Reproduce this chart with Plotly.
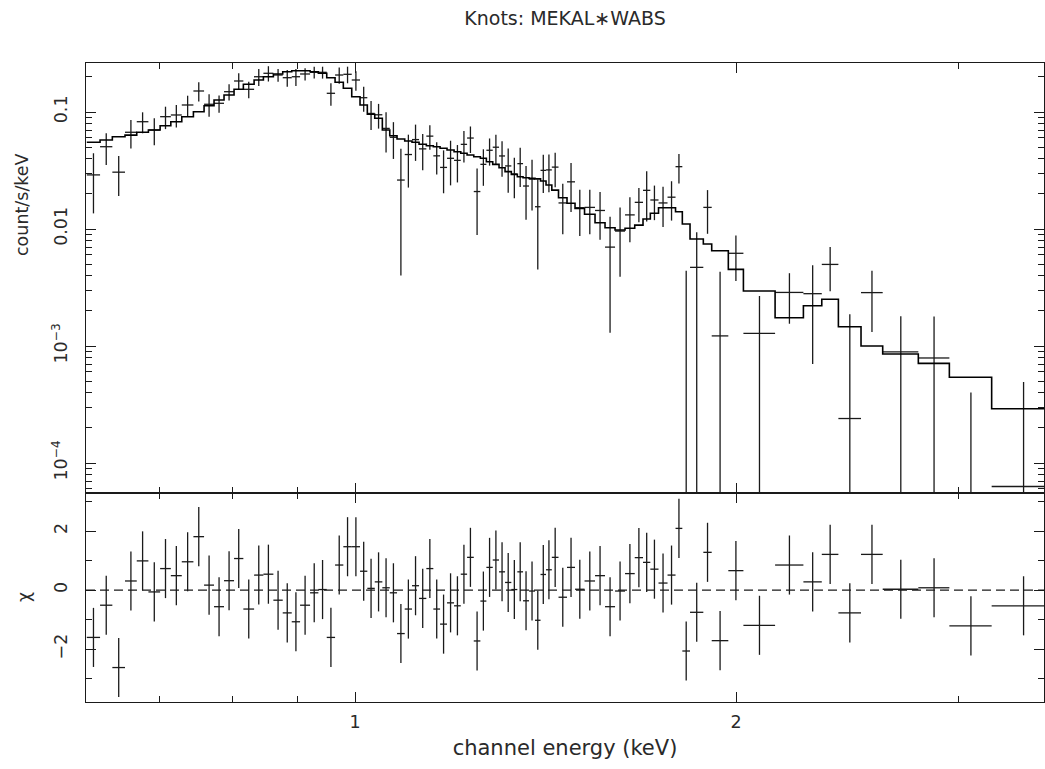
import plotly.graph_objects as go

# Channel bin edges (keV)
bin_edges = [
    0.6138, 0.6288, 0.6430, 0.6580, 0.6722, 0.6866, 0.7014, 0.7152, 0.7296, 0.7452,
    0.7598, 0.7737, 0.7879, 0.8024, 0.8161, 0.8322, 0.8464, 0.8619, 0.8767, 0.8912,
    0.9048, 0.9214, 0.9354, 0.9498, 0.9643, 0.9789, 0.9940, 1.0091, 1.0226, 1.0365,
    1.0509, 1.0652, 1.0794, 1.0946, 1.1092, 1.1235, 1.1385, 1.1531, 1.1673, 1.1822,
    1.1974, 1.2121, 1.2261, 1.2411, 1.2561, 1.2699, 1.2847, 1.2995, 1.3138, 1.3289,
    1.3435, 1.3575, 1.3724, 1.3874, 1.4014, 1.4155, 1.4305, 1.4480, 1.4706, 1.4922,
    1.5182, 1.5475, 1.5759, 1.6049, 1.6343, 1.6634, 1.6887, 1.7113, 1.7370, 1.7657,
    1.7916, 1.8139, 1.8395, 1.8845, 1.9135, 1.9722, 2.0271, 2.1474, 2.2609, 2.3378,
    2.4095, 2.5108, 2.6118, 2.7867, 2.9486, 3.1845, 3.5652,
]

# Observed rate per channel (count/s/keV) and 1-sigma errors
counts = [
    0.0290, 0.0505, 0.0306, 0.0671, 0.0826, 0.0701, 0.0912, 0.0943, 0.1148, 0.1512,
    0.1164, 0.1187, 0.1491, 0.1841, 0.1563, 0.2002, 0.2142, 0.2071, 0.1964, 0.2002,
    0.2113, 0.2184, 0.2184, 0.1445, 0.2071, 0.2100, 0.1877, 0.1325, 0.0972, 0.0947,
    0.0724, 0.0608, 0.0262, 0.0433, 0.0581, 0.0484, 0.0622, 0.0422, 0.0336, 0.0402,
    0.0386, 0.0529, 0.0599, 0.0209, 0.0357, 0.0471, 0.0500, 0.0421, 0.0346, 0.0295,
    0.0362, 0.0233, 0.0267, 0.0155, 0.0317, 0.0320, 0.0338, 0.0167, 0.0253, 0.0152,
    0.0153, 0.0144, 0.0070, 0.0096, 0.0132, 0.0169, 0.0214, 0.0177, 0.0167, 0.0187,
    0.0341, -0.0018, 0.0047, 0.0153, 0.00122, 0.0062, 0.00128, 0.00287, 0.0028, 0.00498,
    0.00024, 0.00286, 0.00089, 0.00079, -0.00023, 0.000063,
]
count_err = [
    0.0154, 0.0153, 0.0115, 0.0184, 0.0168, 0.0182, 0.0198, 0.0205, 0.0230, 0.0280,
    0.0252, 0.0200, 0.0234, 0.0300, 0.0253, 0.0330, 0.0320, 0.0260, 0.0320, 0.0330,
    0.0250, 0.0255, 0.0255, 0.0315, 0.0330, 0.0340, 0.0357, 0.0320, 0.0270, 0.0226,
    0.0273, 0.0211, 0.0222, 0.0207, 0.0199, 0.0166, 0.0147, 0.0130, 0.0134, 0.0166,
    0.0136, 0.0158, 0.0153, 0.0120, 0.0123, 0.0123, 0.0140, 0.0141, 0.0142, 0.0112,
    0.0133, 0.0113, 0.0123, 0.0110, 0.0114, 0.0114, 0.0111, 0.0077, 0.0113, 0.0065,
    0.0063, 0.0063, 0.0057, 0.0057, 0.0055, 0.0055, 0.0098, 0.0058, 0.0063, 0.0069,
    0.0096, 0.0062, 0.0047, 0.0062, 0.0031, 0.0026, 0.0014, 0.00132, 0.0021, 0.00204,
    0.00163, 0.00154, 0.00091, 0.0010, 0.00063, 0.00043,
]

# Folded MEKAL*WABS model per channel (count/s/keV)
model = [
    0.0551, 0.0577, 0.0615, 0.0635, 0.0671, 0.0701, 0.0764, 0.0826, 0.0912, 0.1006,
    0.1132, 0.1267, 0.1397, 0.1563, 0.1725, 0.1877, 0.2002, 0.2113, 0.2210, 0.2254,
    0.2254, 0.2210, 0.2142, 0.1964, 0.1794, 0.1594, 0.1352, 0.1148, 0.0956, 0.0884,
    0.0702, 0.0627, 0.0588, 0.0565, 0.0551, 0.0530, 0.0515, 0.0505, 0.0490, 0.0473,
    0.0458, 0.0444, 0.0429, 0.0415, 0.0402, 0.0376, 0.0357, 0.0334, 0.0309, 0.0293,
    0.0280, 0.0274, 0.0271, 0.0268, 0.0257, 0.0238, 0.0215, 0.0185, 0.0166, 0.0150,
    0.01335, 0.01132, 0.01026, 0.0098, 0.01014, 0.0108, 0.01218, 0.01362, 0.0152, 0.0152,
    0.01406, 0.01104, 0.00821, 0.00745, 0.00652, 0.00452, 0.00295, 0.001746, 0.00221, 0.00251,
    0.00146, 0.0010, 0.000854, 0.000711, 0.00054, 0.000291,
]

# Residuals in units of sigma
chi = [
    -1.60, -0.51, -2.62, 0.31, 0.99, -0.06, 0.73, 0.49, 0.96, 1.81,
    0.17, -0.56, 0.32, 1.07, -0.64, 0.51, 0.54, -0.34, -0.77, -1.07,
    -0.51, -0.09, 0.02, -1.60, 0.85, 1.47, 1.47, 0.64, 0.06, 0.28,
    0.08, -0.09, -1.47, -0.64, 0.15, -0.28, 0.73, -0.64, -1.15, -0.43,
    -0.53, 0.54, 1.11, -1.72, -0.37, 0.77, 1.02, 0.62, 0.26, 0.02,
    0.62, -0.36, -0.03, -1.02, 0.53, 0.69, 1.11, -0.24, 0.77, 0.03,
    0.31, 0.49, -0.56, -0.03, 0.56, 1.10, 0.94, 0.71, 0.24, 0.51,
    2.09, -2.06, -0.75, 1.28, -1.71, 0.66, -1.19, 0.85, 0.28, 1.21,
    -0.77, 1.21, 0.03, 0.08, -1.21, -0.53,
]

assert len(bin_edges) == len(counts) + 1 == len(count_err) + 1 == len(model) + 1 == len(chi) + 1

INK = "#1a1a1a"
TEXT = "#2a2a2a"
FONT = dict(family="DejaVu Sans", size=17.5, color=TEXT)

W, H = 1045, 769
M_L, M_R, M_T, M_B = 86, 1, 63, 67
PLOT_W, PLOT_H = W - M_L - M_R, H - M_T - M_B


def paper_x(px):
    return (px - M_L) / PLOT_W


def paper_y(py):
    return (H - M_B - py) / PLOT_H


lo_edges = bin_edges[:-1]
hi_edges = bin_edges[1:]
centres = [0.5 * (a + b) for a, b in zip(lo_edges, hi_edges)]

# Data crosses for the spectrum; bars reaching below zero run off the log axis
floor_val = 1e-7
sx, sy = [], []
for lo, hi, xc, d, s in zip(lo_edges, hi_edges, centres, counts, count_err):
    sx += [xc, xc, None]
    sy += [max(d - s, floor_val), d + s, None]
    if d > 0:
        sx += [lo, hi, None]
        sy += [d, d, None]

# Residual crosses (chi +/- 1)
rx, ry = [], []
for lo, hi, xc, c in zip(lo_edges, hi_edges, centres, chi):
    rx += [xc, xc, None, lo, hi, None]
    ry += [c - 1.0, c + 1.0, None, c, c, None]

fig = go.Figure()

fig.add_trace(go.Scatter(
    x=sx, y=sy, mode="lines", line=dict(color=INK, width=1.3),
    xaxis="x", yaxis="y", hoverinfo="skip", showlegend=False,
))
fig.add_trace(go.Scatter(
    x=list(bin_edges), y=list(model) + [model[-1]], mode="lines",
    line=dict(color="black", width=1.6, shape="hv"),
    xaxis="x", yaxis="y", showlegend=False,
))
fig.add_trace(go.Scatter(
    x=rx, y=ry, mode="lines", line=dict(color=INK, width=1.3),
    xaxis="x2", yaxis="y2", hoverinfo="skip", showlegend=False,
))

x_range = [-0.2126, 0.5444]
x_minor = [0.7, 0.8, 0.9, 3.0]
y_major = [1e-4, 1e-3, 1e-2, 1e-1]
y_labels = ["10<sup>\u22124</sup>", "10<sup>\u22123</sup>", "0.01", "0.1"]
y_minor = [m * 10.0 ** e for e in range(-5, 0) for m in range(2, 10)]

axis_common = dict(
    showline=True, linecolor=INK, linewidth=1.2, mirror="allticks",
    ticks="inside", tickcolor=INK, ticklen=10, tickwidth=1.2,
    showgrid=False, zeroline=False,
)
minor_style = dict(ticks="inside", ticklen=6, tickcolor=INK, tickwidth=1.2)

lower_top = paper_y(493)

fig.update_layout(
    width=W, height=H,
    margin=dict(l=M_L, r=M_R, t=M_T, b=M_B),
    paper_bgcolor="white", plot_bgcolor="white",
    font=FONT,
    title=dict(
        text="Knots: MEKAL\u2217WABS", x=0.5, xref="paper", xanchor="center",
        y=1 - 18 / H, yref="container", yanchor="middle",
        font=dict(family="DejaVu Sans", size=19, color=TEXT),
    ),
    xaxis=dict(
        type="log", range=x_range, domain=[0, 1], anchor="y",
        tickvals=[1, 2], showticklabels=False,
        minor=dict(tickvals=x_minor, **minor_style),
        **axis_common,
    ),
    xaxis2=dict(
        type="log", range=x_range, domain=[0, 1], anchor="y2", matches="x",
        tickvals=[1, 2], ticktext=["1", "2"],
        minor=dict(tickvals=x_minor, **minor_style),
        title=dict(text="channel energy (keV)", standoff=9),
        ticklabelstandoff=4,
        **axis_common,
    ),
    yaxis=dict(
        type="log", range=[-4.2564, -0.5812], domain=[lower_top, 1], anchor="x",
        tickvals=y_major, ticktext=y_labels, tickangle=-90,
        minor=dict(tickvals=y_minor, **minor_style),
        ticklabelstandoff=11,
        **axis_common,
    ),
    yaxis2=dict(
        range=[-3.786, 3.288], domain=[0, lower_top], anchor="x2",
        tickvals=[-2, 0, 2], ticktext=["\u22122", "0", "2"], tickangle=-90,
        minor=dict(tickvals=[-3, -1, 1, 3], **minor_style),
        ticklabelstandoff=11,
        **axis_common,
    ),
    shapes=[dict(
        type="line", xref="x2 domain", yref="y2", x0=0, x1=1, y0=0, y1=0,
        line=dict(color=INK, width=1.2, dash="9px,5px"),
    )],
    annotations=[
        dict(text="count/s/keV", textangle=-90, showarrow=False,
             xref="paper", yref="paper", x=paper_x(22), y=paper_y(205),
             xanchor="center", yanchor="middle", font=FONT),
        dict(text="\u03c7", textangle=-90, showarrow=False,
             xref="paper", yref="paper", x=paper_x(24), y=paper_y(597),
             xanchor="center", yanchor="middle", font=FONT),
    ],
)

fig.write_html("out.html")
